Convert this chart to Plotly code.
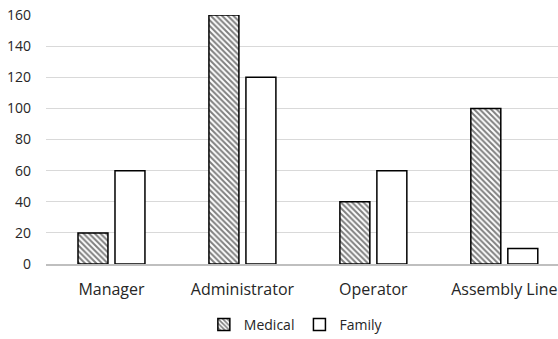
import plotly.graph_objects as go

categories = ["Manager", "Administrator", "Operator", "Assembly Line"]
medical = [20, 160, 40, 100]
family = [60, 120, 60, 10]
y_ticks = [0, 20, 40, 60, 80, 100, 120, 140, 160]

FONT = "Open Sans"
TEXT = "#262626"

fig = go.Figure()
fig.add_trace(go.Bar(
    x=categories, y=medical, name="Medical",
    marker=dict(
        color="white",
        line=dict(color="black", width=1.5),
        pattern=dict(shape="\\", fgcolor="black", bgcolor="white",
                     size=4, solidity=0.5, fillmode="overlay"),
    ),
))
fig.add_trace(go.Bar(
    x=categories, y=family, name="Family",
    marker=dict(color="white", line=dict(color="black", width=1.5)),
))

fig.update_layout(
    width=558, height=339,
    margin=dict(l=46, r=0, t=15, b=75, autoexpand=False),
    paper_bgcolor="white", plot_bgcolor="white",
    barmode="group", bargap=0.435, bargroupgap=0.19,
    font=dict(family=FONT, color=TEXT),
    showlegend=True,
    legend=dict(
        orientation="h", x=0.488, xanchor="center", y=-0.245, yanchor="middle",
        font=dict(family=FONT, size=14, color=TEXT),
        itemwidth=30, tracegroupgap=0,
    ),
    xaxis=dict(
        range=[-0.5, 3.41], automargin=False,
        showgrid=False, zeroline=False,
        showline=True, linecolor="#bfbfbf", linewidth=1.5, layer="above traces",
        ticks="", tickfont=dict(family=FONT, size=16, color=TEXT),
        ticklabelstandoff=10,
    ),
    yaxis=dict(
        range=[0, 160], tickvals=y_ticks, automargin=False,
        showgrid=True, gridcolor="#d9d9d9", gridwidth=1,
        zeroline=False, showline=False,
        ticks="", tickfont=dict(family=FONT, size=14, color=TEXT),
        ticklabelstandoff=14,
    ),
)

fig.write_html("out.html")
